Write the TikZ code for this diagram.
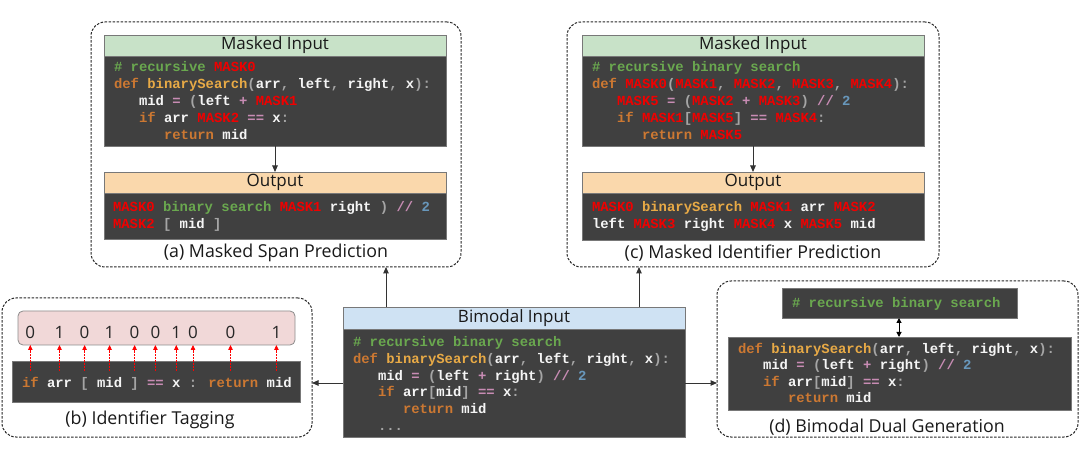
\documentclass[tikz,border=0pt]{standalone}
\usepackage{fontspec}
\setmainfont{Open Sans}
\newfontfamily\codefnt{Liberation Mono}
\usetikzlibrary{arrows.meta}
\definecolor{cbg}{RGB}{64,64,64}
\definecolor{cborder}{RGB}{120,120,120}
\definecolor{hgreen}{RGB}{200,226,200}
\definecolor{htan}{RGB}{250,216,172}
\definecolor{hblue}{RGB}{207,226,243}
\definecolor{pinkbox}{RGB}{241,216,216}
\definecolor{ccm}{RGB}{106,168,79}
\definecolor{ckw}{RGB}{204,120,50}
\definecolor{cfn}{RGB}{232,170,70}
\definecolor{cop}{RGB}{200,140,180}
\definecolor{cpn}{RGB}{165,165,165}
\definecolor{cnu}{RGB}{104,151,187}
\definecolor{cmk}{RGB}{240,0,0}
\definecolor{cid}{RGB}{245,245,245}
\newcommand\cCm[1]{\textcolor{ccm}{#1}}
\newcommand\cKw[1]{\textcolor{ckw}{#1}}
\newcommand\cFn[1]{\textcolor{cfn}{#1}}
\newcommand\cOp[1]{\textcolor{cop}{#1}}
\newcommand\cPn[1]{\textcolor{cpn}{#1}}
\newcommand\cNu[1]{\textcolor{cnu}{#1}}
\newcommand\cMk[1]{\textcolor{cmk}{#1}}
\newcommand\cInd[1]{\hspace*{#1\fontcharwd\font`x}}
\begin{document}
\begin{tikzpicture}[x=1pt,y=-1pt,
  panel/.style={draw=black!85, dash pattern=on 2.5pt off 1.5pt, line width=1pt, rounded corners=14pt, anchor=north west, inner sep=0pt, outer sep=0pt},
  box/.style={anchor=north west, inner sep=0pt, outer sep=0pt, draw=cborder, line width=0.8pt},
  hdr/.style={box, font=\fontsize{17}{19}\selectfont, text=black!90},
  codebox/.style={box, fill=cbg},
  ln/.style={anchor=base west, inner sep=0pt, outer sep=0pt, text=cid, font=\codefnt\bfseries\fontsize{13.9}{16.7}\selectfont},
  captxt/.style={font=\fontsize{17.8}{20}\selectfont, text=black!90, inner sep=0pt},
  dig/.style={font=\fontsize{17}{20}\selectfont, text=black!85, inner sep=0pt, anchor=base},
  arr/.style={-{Triangle[length=6.5pt,width=5.5pt]}, line width=1pt, draw=black!80},
  dbl/.style={{Triangle[length=5pt,width=5pt]}-{Triangle[length=5pt,width=5pt]}, line width=1pt, draw=black},
  tagarr/.style={-{Triangle[length=5pt,width=4.5pt]}, dash pattern=on 2pt off 1pt, draw=red, line width=0.8pt}
]
\useasboundingbox (0,0) rectangle (1080,457);

% ---------- panel (a)
\node[panel, minimum width=370pt, minimum height=245pt] (pa) at (91,22) {};
\node[hdr, fill=hgreen, minimum width=342pt, minimum height=21pt] (ahdr) at (104,35) {Masked Input};
\node[codebox, minimum width=342pt, minimum height=90pt] (acode) at (104,56) {};
\node[hdr, fill=htan, minimum width=342pt, minimum height=21pt] (aohdr) at (104,172) {Output};
\node[codebox, minimum width=342pt, minimum height=46pt] (aout) at (104,193) {};
\node[ln] (a1) at (114,72) {\cCm{\# recursive} \cMk{MASK0}};
\node[ln] (a2) at (114,88.8) {\cKw{def} \cFn{binarySearch}\cPn{(}arr\cPn{,} left\cPn{,} right\cPn{,} x\cPn{):}};
\node[ln] (a3) at (114,105.6) {\cInd{3}mid \cOp{=} \cPn{(}left \cOp{+} \cMk{MASK1}};
\node[ln] (a4) at (114,122.4) {\cInd{3}\cKw{if} arr \cMk{MASK2} \cOp{==} x\cPn{:}};
\node[ln] (a5) at (114,139.2) {\cInd{6}\cKw{return} mid};
\node[ln] (ao1) at (113,212) {\cMk{MASK0} \cCm{binary search} \cMk{MASK1} right \cPn{)} \cOp{//} \cNu{2}};
\node[ln] (ao2) at (113,228.6) {\cMk{MASK2} \cPn{[} mid \cPn{]}};
\node[captxt] (acap) at (276,253) {(a) Masked Span Prediction};
\draw[arr] (acode.south) -- (aohdr.north);

% ---------- panel (c)
\node[panel, minimum width=372pt, minimum height=245pt] (pc) at (567,22) {};
\node[hdr, fill=hgreen, minimum width=342pt, minimum height=21pt] (chdr) at (582,35) {Masked Input};
\node[codebox, minimum width=342pt, minimum height=90pt] (ccode) at (582,56) {};
\node[hdr, fill=htan, minimum width=342pt, minimum height=21pt] (cohdr) at (582,172) {Output};
\node[codebox, minimum width=342pt, minimum height=47pt] (cout) at (582,193) {};
\node[ln] (c1) at (592,72) {\cCm{\# recursive binary search}};
\node[ln] (c2) at (592,88.8) {\cKw{def} \cMk{MASK0}\cPn{(}\cMk{MASK1}\cPn{,} \cMk{MASK2}\cPn{,} \cMk{MASK3}\cPn{,} \cMk{MASK4}\cPn{):}};
\node[ln] (c3) at (592,105.6) {\cInd{3}\cMk{MASK5} \cOp{=} \cPn{(}\cMk{MASK2} \cOp{+} \cMk{MASK3}\cPn{)} \cOp{//} \cNu{2}};
\node[ln] (c4) at (592,122.4) {\cInd{3}\cKw{if} \cMk{MASK1}\cPn{[}\cMk{MASK5}\cPn{]} \cOp{==} \cMk{MASK4}\cPn{:}};
\node[ln] (c5) at (592,139.2) {\cInd{6}\cKw{return} \cMk{MASK5}};
\node[ln] (co1) at (592,212) {\cMk{MASK0} \cFn{binarySearch} \cMk{MASK1} arr \cMk{MASK2}};
\node[ln] (co2) at (592,228.8) {left \cMk{MASK3} right \cMk{MASK4} x \cMk{MASK5} mid};
\node[captxt] (ccap) at (753,253) {(c) Masked Identifier Prediction};
\draw[arr] (ccode.south) -- (cohdr.north);

% ---------- bimodal input
\node[hdr, fill=hblue, minimum width=342pt, minimum height=22pt] (bhdr) at (343,307) {Bimodal Input};
\node[codebox, minimum width=342pt, minimum height=108pt] (bcode) at (343,329) {};
\node[ln] (b1) at (353,347) {\cCm{\# recursive binary search}};
\node[ln] (b2) at (353,363.6) {\cKw{def} \cFn{binarySearch}\cPn{(}arr\cPn{,} left\cPn{,} right\cPn{,} x\cPn{):}};
\node[ln] (b3) at (353,380.2) {\cInd{3}mid \cOp{=} \cPn{(}left \cOp{+} right\cPn{)} \cOp{//} \cNu{2}};
\node[ln] (b4) at (353,396.8) {\cInd{3}\cKw{if} arr\cPn{[}mid\cPn{]} \cOp{==} x\cPn{:}};
\node[ln] (b5) at (353,413.4) {\cInd{6}\cKw{return} mid};
\node[ln] (b6) at (353,430) {\cInd{3}\cPn{...}};

% ---------- panel (b)
\node[panel, minimum width=310pt, minimum height=139pt] (pb) at (2,298) {};
\node[box, fill=pinkbox, draw=black!45, rounded corners=5pt, minimum width=277pt, minimum height=34pt] (pk) at (18,311) {};
\node[codebox, minimum width=288pt, minimum height=41pt] (bt) at (12,361) {};
\node[ln] (bt1) at (22,387) {\cKw{if} arr \cPn{[} mid \cPn{]} \cOp{==} x \cPn{:} \cKw{return} mid};
\foreach \x/\d [count=\i] in {30.3/0,59.5/1,84.6/0,109.6/1,134.6/0,155.4/0,176.3/1,193/0,230.5/0,276.4/1}{
  \node[dig] (dg\i) at (\x,338) {\d};
  \draw[tagarr] (\x,371) -- (\x,371 |- pk.south);
}
\node[captxt] (bcap) at (150,420) {(b) Identifier Tagging};

% ---------- panel (d)
\node[panel, minimum width=361pt, minimum height=156pt] (pd) at (717,281) {};
\node[codebox, minimum width=235pt, minimum height=30pt] (dtop) at (782,288) {};
\node[ln] (dt1) at (792,308) {\cCm{\# recursive binary search}};
\node[codebox, minimum width=343pt, minimum height=73pt] (dcode) at (728,337) {};
\node[ln] (d1) at (738,354) {\cKw{def} \cFn{binarySearch}\cPn{(}arr\cPn{,} left\cPn{,} right\cPn{,} x\cPn{):}};
\node[ln] (d2) at (738,370) {\cInd{3}mid \cOp{=} \cPn{(}left \cOp{+} right\cPn{)} \cOp{//} \cNu{2}};
\node[ln] (d3) at (738,386) {\cInd{3}\cKw{if} arr\cPn{[}mid\cPn{]} \cOp{==} x\cPn{:}};
\node[ln] (d4) at (738,402) {\cInd{6}\cKw{return} mid};
\node[captxt] (dcap) at (887,427) {(d) Bimodal Dual Generation};
\draw[dbl] (dtop.south -| 899,0) -- (dcode.north -| 899,0);

% ---------- connectors from bimodal input
\draw[arr] ([xshift=-128pt]bhdr.north) -- ([xshift=-128pt]bhdr.north |- pa.south);
\draw[arr] ([xshift=125pt]bhdr.north) -- ([xshift=125pt]bhdr.north |- pc.south);
\draw[arr] (bcode.west |- 0,383) -- (pb.east |- 0,383);
\draw[arr] (bcode.east |- 0,383) -- (pd.west |- 0,383);
\end{tikzpicture}
\end{document}
